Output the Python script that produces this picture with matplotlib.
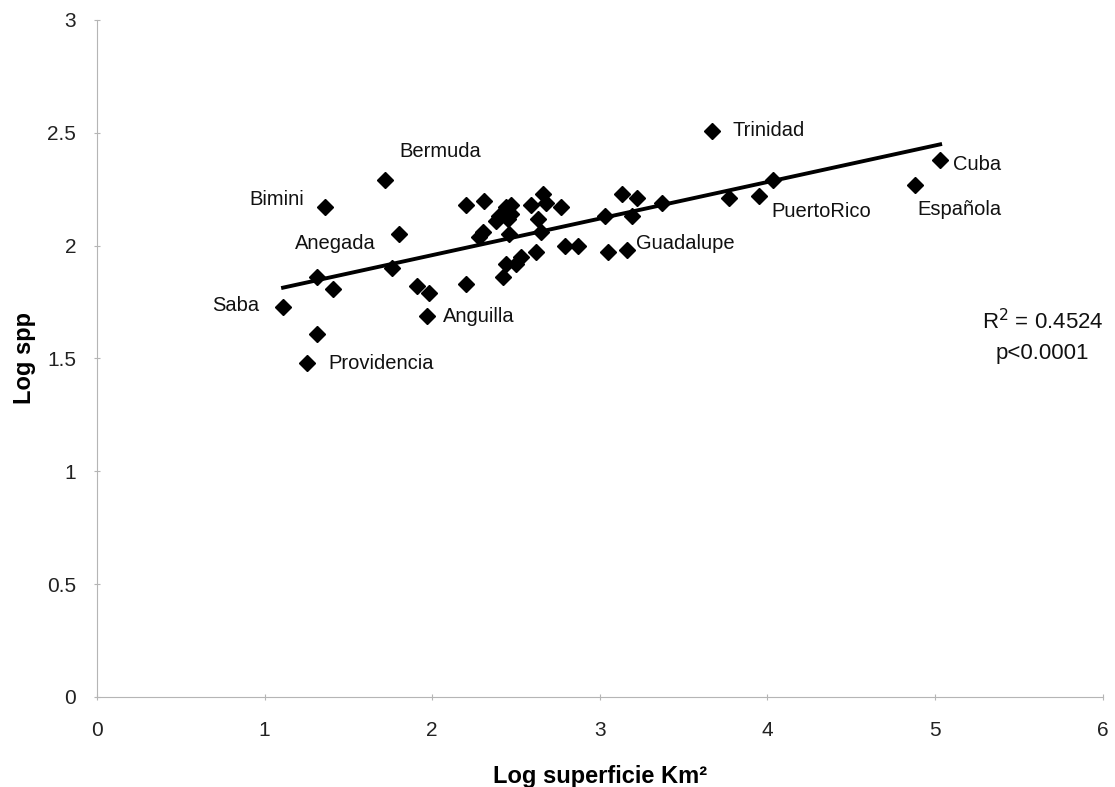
import matplotlib.pyplot as plt
import numpy as np

# log10 island area (km2) vs log10 species
log_area = [
    1.11, 1.25, 1.31, 1.31, 1.36, 1.41, 1.72, 1.76, 1.80, 1.91,
    1.98, 1.97, 2.20, 2.20, 2.31, 2.28, 2.30, 2.38, 2.40, 2.44,
    2.47, 2.47, 2.45, 2.46, 2.42, 2.44, 2.50, 2.53, 2.59, 2.66,
    2.68, 2.77, 2.63, 2.65, 2.62, 2.79, 2.87, 3.03, 3.13, 3.22,
    3.19, 3.37, 3.05, 3.16, 3.67, 3.77, 3.95, 4.03, 4.88, 5.03,
]
log_spp = [
    1.73, 1.48, 1.61, 1.86, 2.17, 1.81, 2.29, 1.90, 2.05, 1.82,
    1.79, 1.69, 1.83, 2.18, 2.20, 2.04, 2.06, 2.11, 2.13, 2.17,
    2.18, 2.14, 2.12, 2.05, 1.86, 1.92, 1.92, 1.95, 2.18, 2.23,
    2.19, 2.17, 2.12, 2.06, 1.97, 2.00, 2.00, 2.13, 2.23, 2.21,
    2.13, 2.19, 1.97, 1.98, 2.51, 2.21, 2.22, 2.29, 2.27, 2.38,
]

# labelled islands: name, x, y
labels = [
    ("Saba", 1.11, 1.73),
    ("Providencia", 1.25, 1.48),
    ("Bimini", 1.36, 2.17),
    ("Bermuda", 1.72, 2.29),
    ("Anegada", 1.80, 2.05),
    ("Anguilla", 1.97, 1.69),
    ("Guadalupe", 3.16, 1.98),
    ("Trinidad", 3.67, 2.51),
    ("PuertoRico", 3.95, 2.22),
    ("Cuba", 5.03, 2.38),
    ("Española", 4.88, 2.27),
]
label_offsets = {
    "Saba": (-24, 1, "right"),
    "Providencia": (22, -1, "left"),
    "Bimini": (-21, 8, "right"),
    "Bermuda": (14, 29, "left"),
    "Anegada": (-23, -9, "right"),
    "Anguilla": (16, -1, "left"),
    "Guadalupe": (9, 7, "left"),
    "Trinidad": (20, 0, "left"),
    "PuertoRico": (12, -15, "left"),
    "Cuba": (13, -5, "left"),
    "Española": (2, -25, "left"),
}

# trend line
slope = 0.162
intercept = 1.634
r2 = 0.4524

plt.rcParams["font.family"] = ["Liberation Sans", "DejaVu Sans"]

fig = plt.figure(figsize=(11.15, 7.87), dpi=100)
ax = fig.add_axes([0.087, 0.1144, 0.902, 0.8602])

ax.plot(log_area, log_spp, linestyle="none", marker="D", markersize=8.5,
        color="black", zorder=3)

xs = np.array([min(log_area), max(log_area)])
ax.plot(xs, slope * xs + intercept, color="black", linewidth=2.8, zorder=2)

for name, x, y in labels:
    dx, dy, ha = label_offsets[name]
    ax.annotate(name, (x, y), xytext=(dx, dy), textcoords="offset pixels",
                ha=ha, va="center", fontsize=14.5, color="#111111")

ax.text(0.940, 0.554, f"R$^2$ = {r2}", transform=ax.transAxes,
        ha="center", va="center", fontsize=16, color="#111111")
ax.text(0.940, 0.508, "p<0.0001", transform=ax.transAxes,
        ha="center", va="center", fontsize=16, color="#111111")

ax.set_xlim(0, 6)
ax.set_ylim(0, 3)
ax.set_xticks(range(0, 7))
ax.set_yticks([0, 0.5, 1, 1.5, 2, 2.5, 3])
ax.set_yticklabels(["0", "0.5", "1", "1.5", "2", "2.5", "3"])

for side in ("top", "right"):
    ax.spines[side].set_visible(False)
for side in ("left", "bottom"):
    ax.spines[side].set_color("#b5b5b5")
    ax.spines[side].set_linewidth(0.8)

ax.tick_params(axis="both", direction="inout", length=4, width=0.8,
               color="#b5b5b5", labelsize=15, labelcolor="#222222")
ax.tick_params(axis="y", pad=13)
ax.tick_params(axis="x", pad=15)

ax.set_xlabel("Log superficie Km²", fontsize=17, fontweight="bold", labelpad=18)
ax.set_ylabel("Log spp", fontsize=17, fontweight="bold", labelpad=8)

fig.savefig("out.png", dpi=100)
